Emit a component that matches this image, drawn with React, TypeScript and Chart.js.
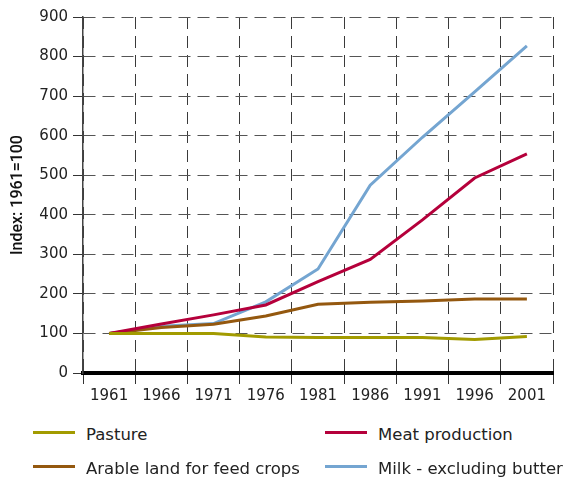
import React, { useEffect, useRef } from "react";
import { Chart, registerables } from "chart.js";

Chart.register(...registerables);

const years = ["1961", "1966", "1971", "1976", "1981", "1986", "1991", "1996", "2001"];
const pasture = [100, 100, 100, 91, 90, 90, 90, 85, 92];
const arable = [100, 115, 123, 144, 174, 179, 182, 187, 187];
const meat = [100, 124, 147, 172, 231, 287, 387, 493, 554];
const milk = [100, 118, 125, 180, 263, 475, 596, 711, 827];
const yTicks = [0, 100, 200, 300, 400, 500, 600, 700, 800, 900];

const FONT = "'DejaVu Sans', sans-serif";
const TITLE_FONT = "Roboto, 'DejaVu Sans', sans-serif";
const COLORS = {
  pasture: "#a29b00",
  arable: "#94580f",
  meat: "#b5003b",
  milk: "#74a5d1",
};

const legendItems = [
  { label: "Pasture", color: COLORS.pasture, x: 33, y: 432 },
  { label: "Meat production", color: COLORS.meat, x: 325, y: 432 },
  { label: "Arable land for feed crops", color: COLORS.arable, x: 33, y: 466 },
  { label: "Milk - excluding butter", color: COLORS.milk, x: 325, y: 466 },
];

export default function App() {
  const ref = useRef<HTMLCanvasElement | null>(null);

  useEffect(() => {
    if (!ref.current) return;
    const chart = new Chart(ref.current, {
      type: "line",
      data: {
        labels: years,
        datasets: [
          { label: "Pasture", data: pasture, borderColor: COLORS.pasture },
          { label: "Meat production", data: meat, borderColor: COLORS.meat },
          { label: "Arable land for feed crops", data: arable, borderColor: COLORS.arable },
          { label: "Milk - excluding butter", data: milk, borderColor: COLORS.milk },
        ].map((d) => ({ ...d, borderWidth: 3, pointRadius: 0, tension: 0, fill: false })),
      },
      options: {
        animation: false,
        responsive: false,
        maintainAspectRatio: false,
        layout: { padding: { left: 0, right: 13, top: 17, bottom: 0 } },
        plugins: { legend: { display: false }, tooltip: { enabled: false } },
        scales: {
          x: {
            type: "category",
            offset: true,
            grid: {
              offset: true,
              color: "#3a3a3a",
              lineWidth: 1,
              tickLength: 11,
              tickColor: "#333",
              tickBorderDash: [],
            },
            border: { color: "#000", width: 4, dash: [12, 7] },
            ticks: {
              color: "#222",
              font: { family: FONT, size: 15 },
              padding: 3,
              maxRotation: 0,
              autoSkip: false,
            },
            afterFit: (s: any) => {
              s.height = 32;
            },
          },
          y: {
            min: 0,
            max: 900,
            afterBuildTicks: (s: any) => {
              s.ticks = yTicks.map((v) => ({ value: v }));
            },
            grid: {
              color: (ctx: any) => (ctx.tick && ctx.tick.value === 0 ? "rgba(0,0,0,0)" : "#555"),
              lineWidth: 1,
              tickLength: 10,
              tickColor: "#333",
              tickBorderDash: [],
            },
            border: { color: "#444", width: 1.5, dash: [12, 7] },
            ticks: {
              color: "#222",
              font: { family: FONT, size: 15 },
              padding: 5,
            },
            title: {
              display: true,
              text: "Index: 1961=100",
              color: "#111",
              font: { family: TITLE_FONT, size: 16, weight: "500" },
              padding: { top: 8, bottom: 0 },
            },
            afterFit: (s: any) => {
              s.width = 83;
            },
          },
        },
      } as any,
    });
    return () => chart.destroy();
  }, []);

  return (
    <div style={{ position: "fixed", left: 0, top: 0, width: 566, height: 477, background: "#fff" }}>
      <canvas ref={ref} width={566} height={405} style={{ position: "absolute", left: 0, top: 0, width: 566, height: 405 }} />
      {legendItems.map((it) => (
        <div
          key={it.label}
          style={{
            position: "absolute",
            left: it.x,
            top: it.y - 12,
            height: 24,
            display: "flex",
            alignItems: "center",
            fontFamily: FONT,
            fontSize: 16.5,
            color: "#222",
            whiteSpace: "nowrap",
          }}
        >
          <span style={{ display: "inline-block", width: 42, height: 3, background: it.color, marginRight: 11 }} />
          <span style={{ position: "relative", top: 2 }}>{it.label}</span>
        </div>
      ))}
    </div>
  );
}
